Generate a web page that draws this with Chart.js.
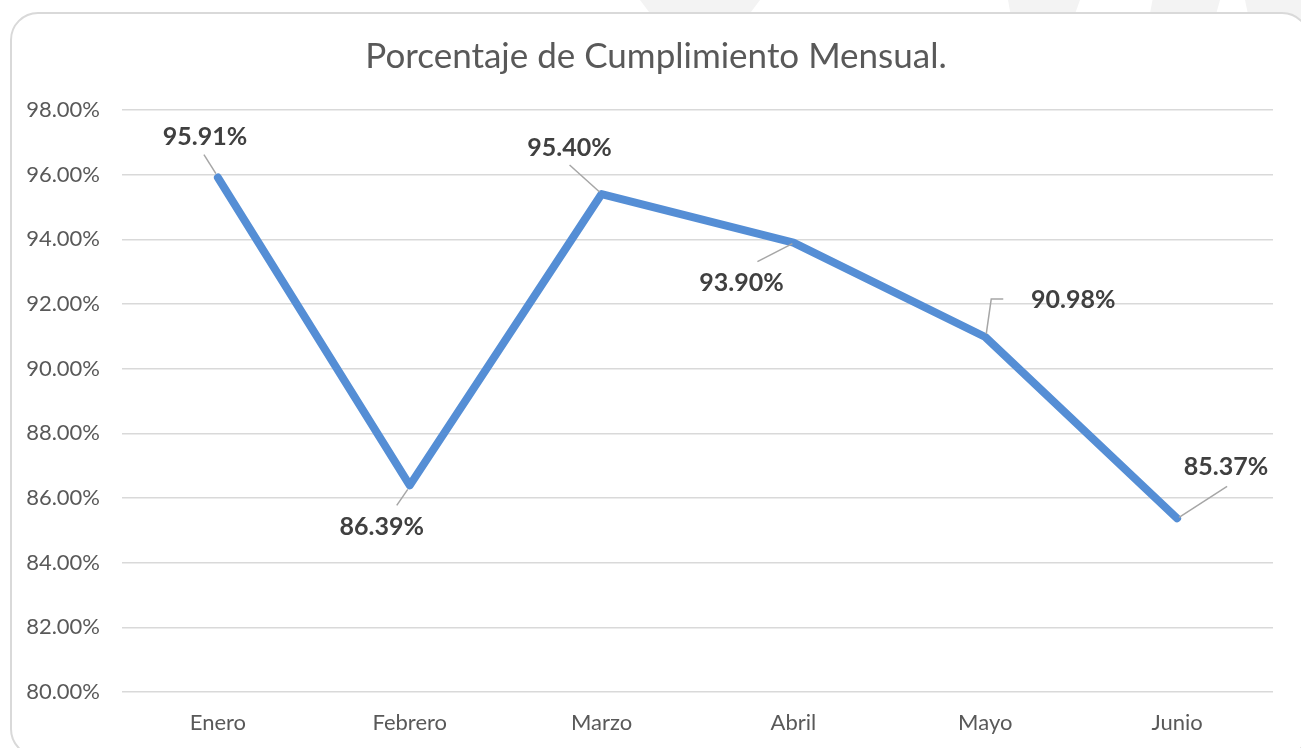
<!DOCTYPE html>
<html>
<head>
<meta charset="utf-8">
<script src="https://cdn.jsdelivr.net/npm/chart.js@4/dist/chart.umd.min.js"></script>
<style>
  html, body { margin:0; padding:0; background:#fff; overflow:hidden; }
  #wrap { position:relative; width:1301px; height:748px; }
  .wm { position:absolute; top:0; height:40px; background:#f3f3f3; }
  #frame { position:absolute; left:10px; top:12px; width:1300px; height:745px; border:2px solid #d9d9d9; border-radius:28px; background:#fff; box-sizing:border-box; }
  canvas { position:absolute; left:0; top:0; }
</style>
</head>
<body>
<div id="wrap">
  <div class="wm" style="left:640px;width:120px;clip-path:polygon(0 0,100% 0,75% 100%,25% 100%);"></div>
  <div class="wm" style="left:1008px;width:72px;clip-path:polygon(0 0,100% 0,80% 100%,10% 100%);"></div>
  <div class="wm" style="left:1145px;width:75px;clip-path:polygon(10% 0,100% 0,85% 100%,0 100%);"></div>
  <div class="wm" style="left:1245px;width:56px;clip-path:polygon(0 0,100% 0,100% 100%,15% 100%);"></div>
  <div id="frame"></div>
  <canvas id="c" width="1301" height="748"></canvas>
</div>
<script>
const categories = ["Enero", "Febrero", "Marzo", "Abril", "Mayo", "Junio"];
const cumplimiento = [95.91, 86.39, 95.40, 93.90, 90.98, 85.37];
const yMin = 80, yMax = 98, yStep = 2;
const chartTitle = 'Porcentaje de Cumplimiento Mensual.';

// label placement (pixel offsets from the point) and leader paths: styling only
const labelStyle = [
  { dx: -13, dy: -41, leader: [[-14, -23], [-2, -4]] },
  { dx: -28, dy: 42, leader: [[-13, 20], [-2, 4]] },
  { dx: -32, dy: -46, leader: [[-32, -29], [-2, -2]] },
  { dx: -52, dy: 40, leader: [[-36, 19], [-1, 1]] },
  { dx: 88, dy: -37, leader: [[18, -38], [6, -38], [1, -3]] },
  { dx: 49, dy: -51, leader: [[50, -32], [2, -1]] }
];

const labelPlugin = {
  id: 'labels',
  afterDatasetsDraw(chart) {
    const ctx = chart.ctx;
    const meta = chart.getDatasetMeta(0);
    ctx.save();
    meta.data.forEach((pt, i) => {
      const s = labelStyle[i];
      ctx.strokeStyle = '#a6a6a6';
      ctx.lineWidth = 1.5;
      ctx.beginPath();
      s.leader.forEach((p, j) => {
        const x = pt.x + p[0], y = pt.y + p[1];
        if (j === 0) ctx.moveTo(x, y); else ctx.lineTo(x, y);
      });
      ctx.stroke();
      ctx.fillStyle = '#404040';
      ctx.font = 'bold 25px Lato';
      ctx.textAlign = 'center';
      ctx.textBaseline = 'middle';
      ctx.fillText(cumplimiento[i].toFixed(2) + '%', pt.x + s.dx, pt.y + s.dy);
    });
    // title, centred on the chart frame
    ctx.fillStyle = '#595959';
    ctx.font = '35px Lato';
    ctx.textAlign = 'center';
    ctx.textBaseline = 'middle';
    ctx.fillText(chartTitle, 656, 57);
    ctx.restore();
  }
};

new Chart(document.getElementById('c'), {
  type: 'line',
  data: {
    labels: categories,
    datasets: [{
      data: cumplimiento,
      borderColor: '#558ed5',
      borderWidth: 8,
      pointRadius: 0,
      borderCapStyle: 'round',
      borderJoinStyle: 'round',
      tension: 0,
      fill: false
    }]
  },
  options: {
    responsive: false,
    animation: false,
    layout: { padding: { left: 0, right: 28, top: 110, bottom: 0 } },
    plugins: {
      legend: { display: false },
      tooltip: { enabled: false },
      title: { display: false }
    },
    scales: {
      x: {
        offset: true,
        grid: { display: false, drawTicks: false },
        border: { display: false },
        ticks: { color: '#595959', font: { family: 'Lato', size: 22 }, padding: 18 },
        afterFit(scale) { scale.height = 56; }
      },
      y: {
        min: yMin, max: yMax,
        grid: { color: '#d9d9d9', lineWidth: 1.5, drawTicks: false },
        border: { display: false },
        ticks: {
          stepSize: yStep,
          color: '#595959',
          font: { family: 'Lato', size: 22 },
          padding: 22,
          callback: v => v.toFixed(2) + '%'
        },
        afterFit(scale) { scale.width = 122; }
      }
    }
  },
  plugins: [labelPlugin]
});
</script>
</body>
</html>
